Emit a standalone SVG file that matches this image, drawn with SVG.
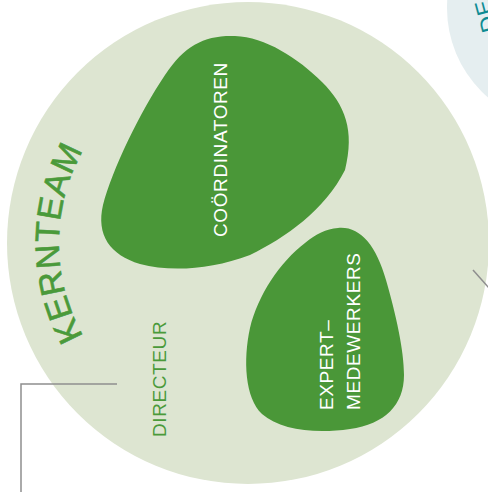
<svg xmlns="http://www.w3.org/2000/svg" width="488" height="492" viewBox="0 0 488 492">
  <defs>
    <style>
      .lbl { font-family: "Liberation Sans", Arial, sans-serif; font-size: 19px; letter-spacing: 0.6px; }
      .white { fill: #ffffff; }
      .green { fill: #4a9a3a; }
      .blob { fill: #4a9738; }
      .conn { fill: none; stroke: #8e8e8e; stroke-width: 1.5; }
    </style>
    <path id="kernArc" d="M103.2,364.5 A189,189 0 0 1 103.2,121.5"/>
  </defs>
  <rect width="488" height="492" fill="#ffffff"/>

  <g id="other-circle">
    <circle cx="565" cy="8" r="118" fill="#e5eef0"/>
    <text transform="translate(498,30) rotate(-105)" font-family="'Liberation Sans', Arial, sans-serif" font-size="23" letter-spacing="1" fill="#0e8b93">DE</text>
  </g>

  <g id="kernteam">
    <circle cx="248" cy="243" r="241" fill="#dde5d1"/>
    <text font-family="'Liberation Sans', Arial, sans-serif" font-size="34" letter-spacing="0.8" fill="#4a9a3a" stroke="#4a9a3a" stroke-width="0.6" text-anchor="middle"><textPath href="#kernArc" startOffset="50%">KERNTEAM</textPath></text>
  </g>

  <g id="connectors">
    <polyline class="conn" points="117,384 21,384 21,492"/>
    <line class="conn" x1="473" y1="270" x2="490" y2="289"/>
  </g>

  <g id="directeur">
    <text class="lbl green" transform="translate(166,437) rotate(-90)">DIRECTEUR</text>
  </g>

  <g id="coordinatoren">
    <path class="blob" d="M235,36 C205,35 185,45 165,75 C140,112 112,170 103,205 C96,235 110,255 140,264 C170,272 210,270 250,255 C285,238 325,210 345,170 C355,130 345,105 322,82 C298,58 265,37 235,36 Z"/>
    <text class="lbl white" transform="translate(227,237) rotate(-90)">COÖRDINATOREN</text>
  </g>

  <g id="expert-medewerkers">
    <path class="blob" d="M338,228 C360,226 376,245 386,280 C396,315 404,350 404,375 C404,405 385,424 350,429 C315,434 280,430 262,414 C245,398 243,360 250,328 C258,295 280,262 305,243 C316,234 326,229 338,228 Z"/>
    <text class="lbl white" transform="translate(333,410) rotate(-90)">EXPERT–</text>
    <text class="lbl white" transform="translate(360,410) rotate(-90)">MEDEWERKERS</text>
  </g>
</svg>
